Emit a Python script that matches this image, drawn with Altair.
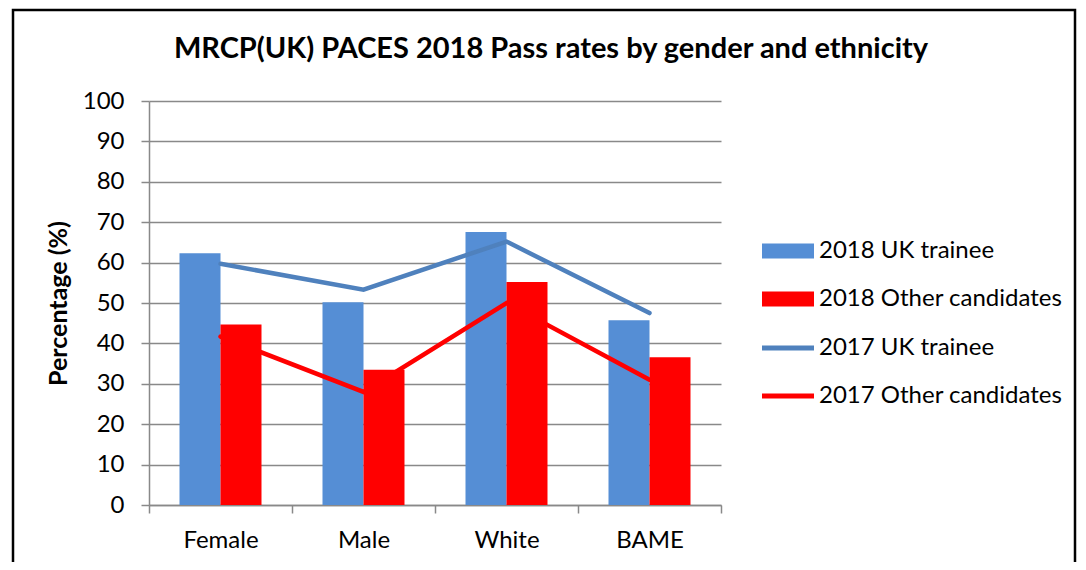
import altair as alt
import pandas as pd

categories = ["Female", "Male", "White", "BAME"]
uk_2018 = [62.3, 50.2, 67.6, 45.7]
other_2018 = [44.7, 33.5, 55.2, 36.6]
uk_2017 = [59.7, 53.3, 65.2, 47.5]
other_2017 = [41.7, 28.0, 50.0, 31.0]

bar_series = ["2018 UK trainee", "2018 Other candidates"]
line_series = ["2017 UK trainee", "2017 Other candidates"]
bar_colors = ["#558ED5", "#FF0000"]
line_colors = ["#4F81BD", "#FF0000"]

bars_df = pd.DataFrame(
    [{"category": c, "series": bar_series[0], "value": v} for c, v in zip(categories, uk_2018)]
    + [{"category": c, "series": bar_series[1], "value": v} for c, v in zip(categories, other_2018)]
)
lines_df = pd.DataFrame(
    [{"category": c, "series": line_series[0], "value": v} for c, v in zip(categories, uk_2017)]
    + [{"category": c, "series": line_series[1], "value": v} for c, v in zip(categories, other_2017)]
)

FONT = "Lato"
GRID = "#898989"
FS = 24

x_enc = alt.X(
    "category:N",
    sort=categories,
    scale=alt.Scale(domain=categories, paddingInner=0, paddingOuter=0),
    axis=alt.Axis(
        title=None, labelAngle=0, labelFontSize=FS, labelFont=FONT, labelColor="black",
        tickBand="extent", tickSize=8, tickColor=GRID, tickWidth=1.5,
        domainColor=GRID, domainWidth=1.5, labelPadding=15, grid=False,
    ),
)
y_enc = alt.Y(
    "value:Q",
    scale=alt.Scale(domain=[0, 100], nice=False),
    axis=alt.Axis(
        values=list(range(0, 101, 10)), grid=True, gridColor=GRID, gridWidth=1.5,
        domainColor=GRID, domainWidth=1.5, tickColor=GRID, tickWidth=1.5, tickSize=8,
        labelFontSize=FS, labelFont=FONT, labelColor="black", labelPadding=17,
        title="Percentage (%)", titleFontSize=25, titleFont=FONT, titleFontWeight="bold",
        titleColor="black", titlePadding=11,
    ),
)

legend_common = dict(
    title=None, orient="none", legendX=627, symbolSize=169,
    labelFontSize=FS, labelFont=FONT, labelColor="black", labelOffset=19,
    labelLimit=400, rowPadding=24, padding=0,
)

bars = alt.Chart(bars_df).mark_bar(stroke=None).encode(
    x=x_enc,
    y=y_enc,
    xOffset=alt.XOffset(
        "series:N", sort=bar_series,
        scale=alt.Scale(domain=bar_series, paddingInner=0, paddingOuter=0.744),
    ),
    fill=alt.Fill(
        "series:N",
        scale=alt.Scale(domain=bar_series, range=bar_colors),
        legend=alt.Legend(
            legendY=138, symbolType="M-4,-1.15H4V1.15H-4Z", symbolStrokeWidth=0,
            **legend_common,
        ),
    ),
)

lines = alt.Chart(lines_df).mark_line(strokeWidth=4.5, strokeCap="round").encode(
    x=alt.X("category:N", sort=categories),
    y=alt.Y("value:Q"),
    stroke=alt.Stroke(
        "series:N",
        scale=alt.Scale(domain=line_series, range=line_colors),
        legend=alt.Legend(
            legendY=235, symbolType="M-4,0H4", symbolStrokeWidth=5,
            **legend_common,
        ),
    ),
)

frame = alt.Chart(pd.DataFrame({"k": [0]})).mark_rect(
    fill=None, stroke="black", strokeWidth=2.5
).encode(
    x=alt.value(-136), x2=alt.value(926), y=alt.value(-91), y2=alt.value(500)
)

chart = alt.layer(bars, lines, frame).resolve_scale(
    fill="independent", stroke="independent"
).properties(
    width=572,
    height=404,
    title=alt.TitleParams(
        "MRCP(UK) PACES 2018 Pass rates by gender and ethnicity",
        fontSize=29, font=FONT, fontWeight="bold", color="black",
        anchor="middle", dx=116, offset=-55,
    ),
    autosize=alt.AutoSizeParams(type="none"),
    padding={"left": 141, "top": 93, "right": 357, "bottom": 57},
    background="white",
).configure_view(stroke=None)

chart.save("out.html", embed_options={"renderer": "svg", "actions": False})
